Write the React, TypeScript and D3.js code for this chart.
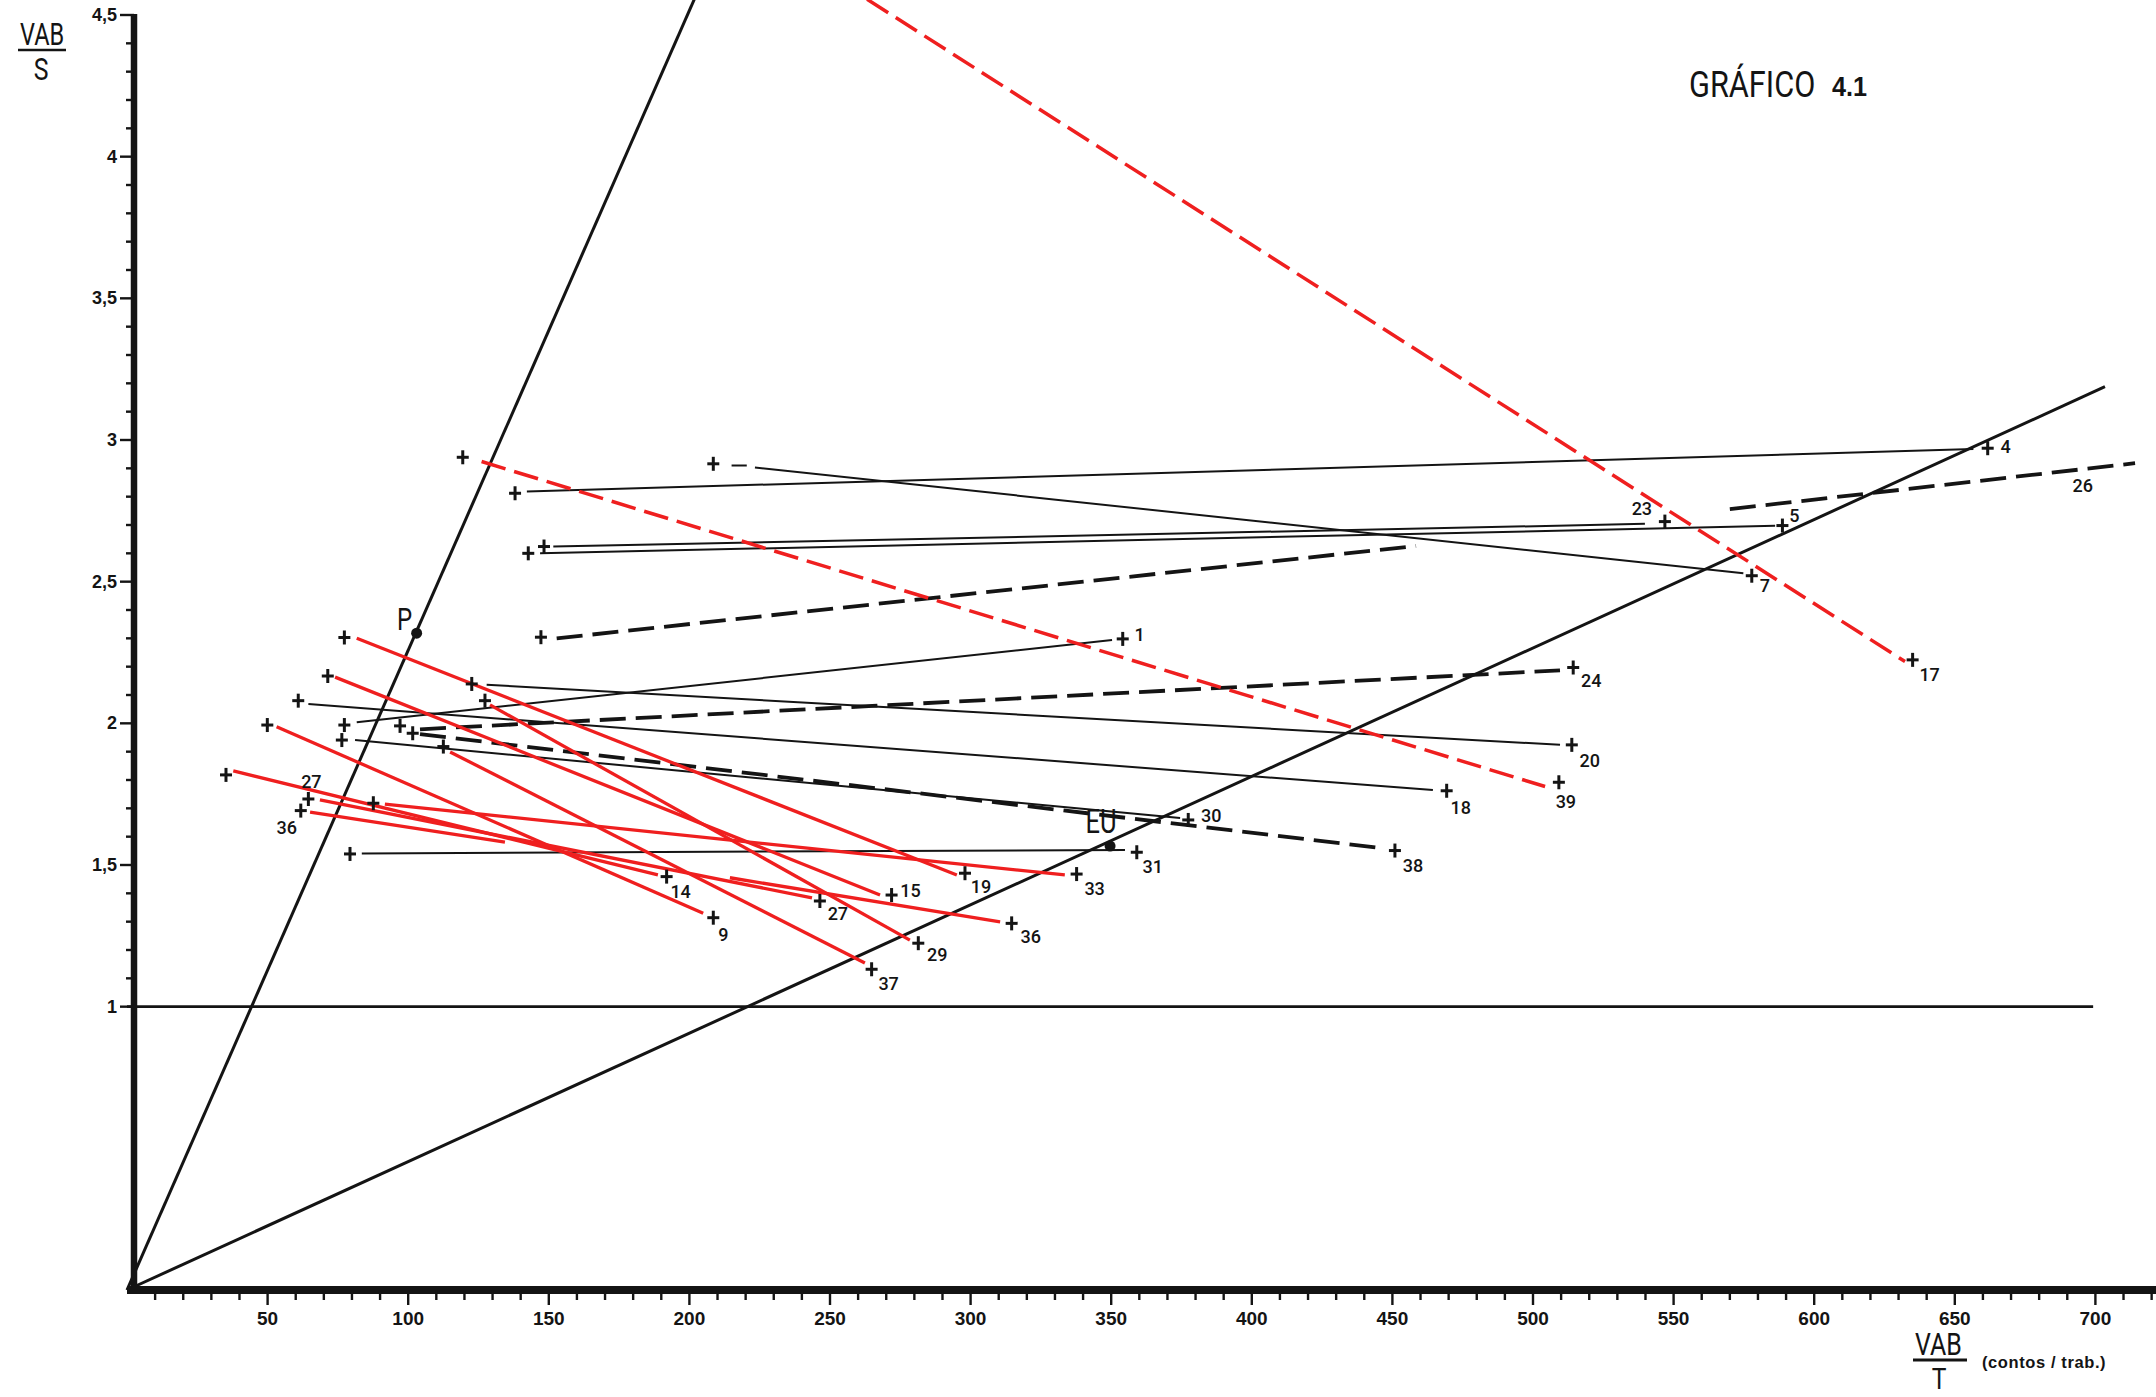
import React from "react";
import * as d3 from "d3";

// ---------------- data (VAB/T in contos/trab., VAB/S) ----------------
type Seg = [number, number, number, number];

const xTickLabelValues = [50, 100, 150, 200, 250, 300, 350, 400, 450, 500, 550, 600, 650, 700];
const yTickLabelValues = [1, 1.5, 2, 2.5, 3, 3.5, 4, 4.5];
const yTickLabelTexts = ["1", "1,5", "2", "2,5", "3", "3,5", "4", "4,5"];

// reference rays from the origin and the unit line
const rayP: Seg = [0, 0, 212, 4.787];
const rayEU: Seg = [0, 0, 703.4, 3.188];
const unitLine: Seg = [0, 1, 699.2, 1];

const refPoints = [
  { name: "P", x: 103.0, y: 2.318 },
  { name: "EU", x: 349.6, y: 1.567 },
];

const blackSolidSegments: Seg[] = [
  [142.2, 2.818, 656.6, 2.968], // 4
  [215.0, 2.91, 220.4, 2.91], // 7 (short dash)
  [223.3, 2.903, 574.8, 2.53], // 7
  [151.6, 2.624, 539.8, 2.704], // 23
  [146.9, 2.6, 586.1, 2.697], // 5
  [81.7, 2.004, 350.3, 2.294], // 1
  [127.9, 2.136, 509.6, 1.924], // 20
  [64.5, 2.068, 464.4, 1.765], // 18
  [81.1, 1.941, 374.5, 1.666], // 30
  [83.5, 1.541, 354.9, 1.553], // 31
];

const blackDashedSegments: Seg[] = [
  [152.8, 2.3, 458.4, 2.626],
  [104.2, 1.979, 509.6, 2.187], // 24
  [104.2, 1.962, 445.6, 1.56], // 38
  [570.0, 2.756, 714.1, 2.918], // 26
];

const redSolidSegments: Seg[] = [
  [81.7, 2.3, 295.1, 1.465], // 19
  [74.0, 2.163, 267.8, 1.394], // 15
  [53.2, 1.988, 204.9, 1.33], // 9
  [37.8, 1.832, 188.8, 1.465], // 14
  [68.6, 1.73, 243.6, 1.384], // 27
  [65.1, 1.687, 134.4, 1.581], // 36 (first piece)
  [214.4, 1.455, 310.5, 1.299], // 36 (second piece)
  [91.7, 1.715, 333.5, 1.465], // 33
  [129.1, 2.065, 278.4, 1.235], // 29
  [114.9, 1.899, 262.4, 1.154], // 37
];

const redDashedSegments: Seg[] = [
  [126.1, 2.924, 504.3, 1.777], // 39
  [253.0, 4.62, 632.3, 2.218], // 17
];

const startPoints: [number, number][] = [
  [119.4, 2.939], [138.0, 2.812], [208.5, 2.916], [142.7, 2.6], [148.3, 2.624],
  [147.2, 2.304], [77.3, 2.303], [71.4, 2.167], [122.6, 2.139], [60.9, 2.08],
  [127.3, 2.08], [49.9, 1.994], [77.3, 1.994], [76.4, 1.941], [97.1, 1.991],
  [101.6, 1.965], [112.5, 1.918], [35.2, 1.818], [87.6, 1.718], [79.3, 1.539],
];

const labeledPoints = [
  { id: "4", label: "4", x: 661.7, y: 2.971 },
  { id: "7", label: "7", x: 577.8, y: 2.521 },
  { id: "5", label: "5", x: 588.7, y: 2.698 },
  { id: "23", label: "23", x: 546.9, y: 2.712 },
  { id: "17", label: "17", x: 635.0, y: 2.224 },
  { id: "1", label: "1", x: 354.1, y: 2.298 },
  { id: "20", label: "20", x: 513.8, y: 1.924 },
  { id: "18", label: "18", x: 469.3, y: 1.762 },
  { id: "24", label: "24", x: 514.3, y: 2.197 },
  { id: "39", label: "39", x: 509.2, y: 1.792 },
  { id: "30", label: "30", x: 377.4, y: 1.659 },
  { id: "31", label: "31", x: 359.1, y: 1.545 },
  { id: "38", label: "38", x: 450.9, y: 1.551 },
  { id: "19", label: "19", x: 298.0, y: 1.471 },
  { id: "15", label: "15", x: 271.9, y: 1.394 },
  { id: "14", label: "14", x: 191.9, y: 1.459 },
  { id: "9", label: "9", x: 208.5, y: 1.314 },
  { id: "27b", label: "27", x: 246.4, y: 1.373 },
  { id: "33", label: "33", x: 337.7, y: 1.468 },
  { id: "36b", label: "36", x: 314.6, y: 1.294 },
  { id: "29", label: "29", x: 281.4, y: 1.224 },
  { id: "37", label: "37", x: 264.8, y: 1.132 },
  { id: "27a", label: "27", x: 64.5, y: 1.733 },
  { id: "36a", label: "36", x: 61.8, y: 1.692 },
];

const labelOnly = [{ label: "26", x: 695.5, y: 2.841 }];

// ---------------- layout ----------------
const W = 2156;
const H = 1397;
const labelOffsets: Record<string, [number, number]> = {
  "4": [18, -2], "7": [13, 10], "5": [12, -10], "23": [-23, -13], "17": [17, 15],
  "1": [17, -4], "20": [18, 16], "18": [14, 17], "24": [18, 13], "39": [7, 19],
  "30": [23, -4], "31": [16, 14], "38": [18, 15], "19": [16, 13], "15": [19, -5],
  "14": [14, 15], "9": [10, 17], "27b": [18, 13], "33": [18, 14], "36b": [19, 13],
  "29": [19, 11], "37": [17, 14], "27a": [3, -17], "36a": [-14, 17],
};

const RED = "#ef1f1f";
const INK = "#141414";

// condensed text via a horizontal scale
function CText(props: {
  x: number; y: number; sx: number; size: number; anchor?: string; weight?: number | string; family?: string; children: React.ReactNode;
}) {
  const { x, y, sx, size, anchor, weight, family, children } = props;
  return (
    <text
      transform={`translate(${x},${y}) scale(${sx},1)`}
      x={0}
      y={0}
      textAnchor={anchor || "start"}
      fontFamily={family || "Roboto"}
      fontWeight={weight ?? 400}
      fontSize={size}
      fill={INK}
    >
      {children}
    </text>
  );
}

export default function App() {
  const x = d3.scaleLinear().domain([0, 700]).range([127, 127 + 700 * 2.812]);
  const y = d3.scaleLinear().domain([0, 4.5]).range([1290, 15]);
  const axisX = x(0) + 7;

  const seg = (s: Seg, key: string | number, stroke: string, sw: number, dash?: string) => (
    <line
      key={key}
      x1={x(s[0])}
      y1={y(s[1])}
      x2={x(s[2])}
      y2={y(s[3])}
      stroke={stroke}
      strokeWidth={sw}
      strokeDasharray={dash}
      strokeLinecap="butt"
    />
  );

  const cross = (px: number, py: number, key: string | number) => (
    <g key={key} stroke={INK} strokeWidth={3}>
      <line x1={px - 6} y1={py} x2={px + 6} y2={py} />
      <line x1={px} y1={py - 7} x2={px} y2={py + 7} />
    </g>
  );

  const xMinor = d3.range(10, 721, 10);
  const yMinor = d3.range(10, 46, 1).map((v) => v / 10);

  return (
    <svg
      width={W}
      height={H}
      style={{ position: "absolute", left: 0, top: 0, background: "#fff" }}
      fontFamily="'Liberation Sans', Arial, sans-serif"
    >
      <rect x={0} y={0} width={W} height={H} fill="#fff" />

      {/* title */}
      <CText x={1689} y={97} sx={0.83} size={37}>GRÁFICO</CText>
      <CText x={1832} y={96} sx={0.9} size={28} weight="bold" family="'Liberation Sans', Arial, sans-serif">4.1</CText>

      {/* y axis title */}
      <CText x={20} y={45} sx={0.76} size={31}>VAB</CText>
      <line x1={18} y1={50} x2={66} y2={50} stroke={INK} strokeWidth={2.5} />
      <CText x={41} y={80} sx={0.8} size={31} anchor="middle">S</CText>

      {/* x axis title */}
      <CText x={1915} y={1355} sx={0.78} size={32}>VAB</CText>
      <line x1={1913} y1={1360} x2={1967} y2={1360} stroke={INK} strokeWidth={2.8} />
      <CText x={1939} y={1389} sx={0.85} size={29} anchor="middle">T</CText>
      <text x={1982} y={1368} fontWeight="bold" fontSize={16.5} letterSpacing={0.6} fill={INK}>
        (contos / trab.)
      </text>

      {/* reference lines */}
      {seg(unitLine, "unit", INK, 2.8)}
      {seg(rayP, "rayP", INK, 3)}
      {seg(rayEU, "rayEU", INK, 3)}

      {/* trajectories */}
      {blackSolidSegments.map((s, i) => seg(s, "bs" + i, INK, 2))}
      {blackDashedSegments.map((s, i) => seg(s, "bd" + i, INK, 3.8, "26 10"))}
      {redSolidSegments.map((s, i) => seg(s, "rs" + i, RED, 3.3))}
      {redDashedSegments.map((s, i) => seg(s, "rd" + i, RED, 3.5, "25 9"))}

      {/* markers */}
      {startPoints.map((p, i) => cross(x(p[0]), y(p[1]), "sp" + i))}
      {labeledPoints.map((p) => cross(x(p.x), y(p.y), "lp" + p.id))}
      {labeledPoints.map((p) => {
        const off = labelOffsets[p.id] || [14, 12];
        return (
          <text
            key={"lt" + p.id}
            x={x(p.x) + off[0]}
            y={y(p.y) + off[1]}
            textAnchor="middle"
            dominantBaseline="central"
            fontFamily="Roboto"
            fontWeight={500}
            fontSize={18}
            fill={INK}
          >
            {p.label}
          </text>
        );
      })}
      {labelOnly.map((p) => (
        <text key={"lo" + p.label} x={x(p.x)} y={y(p.y)} textAnchor="middle" dominantBaseline="central" fontFamily="Roboto" fontWeight={500} fontSize={18} fill={INK}>
          {p.label}
        </text>
      ))}

      {/* reference points */}
      {refPoints.map((p) => (
        <circle key={"rp" + p.name} cx={x(p.x)} cy={y(p.y)} r={5.5} fill={INK} />
      ))}
      <CText x={x(refPoints[0].x) - 12} y={y(refPoints[0].y) - 3} sx={0.75} size={32} anchor="middle">
        {refPoints[0].name}
      </CText>
      <CText x={x(refPoints[1].x) - 9} y={y(refPoints[1].y) - 13} sx={0.75} size={34} anchor="middle">
        {refPoints[1].name}
      </CText>

      {/* y axis */}
      <line x1={axisX} y1={y(0) + 3} x2={axisX} y2={y(4.5) - 1} stroke={INK} strokeWidth={6.5} />
      {yMinor.map((v) => {
        const major = Math.abs(v * 2 - Math.round(v * 2)) < 1e-6;
        return (
          <line key={"yt" + v} x1={axisX - (major ? 14 : 8)} x2={axisX} y1={y(v)} y2={y(v)} stroke={INK} strokeWidth={2.4} />
        );
      })}
      {yTickLabelValues.map((v, i) => (
        <text key={"yl" + v} x={axisX - 17} y={y(v)} textAnchor="end" dominantBaseline="central" fontWeight="bold" fontSize={18} fill={INK}>
          {yTickLabelTexts[i]}
        </text>
      ))}

      {/* x axis */}
      <line x1={x(0)} y1={y(0)} x2={W} y2={y(0)} stroke={INK} strokeWidth={8} />
      {xMinor.map((v) => {
        const major = v % 50 === 0;
        return (
          <line key={"xt" + v} x1={x(v)} x2={x(v)} y1={y(0)} y2={y(0) + (major ? 15 : 10)} stroke={INK} strokeWidth={2.4} />
        );
      })}
      {xTickLabelValues.map((v) => (
        <text key={"xl" + v} x={x(v)} y={1325} textAnchor="middle" fontWeight="bold" fontSize={19} fill={INK}>
          {v}
        </text>
      ))}
    </svg>
  );
}
